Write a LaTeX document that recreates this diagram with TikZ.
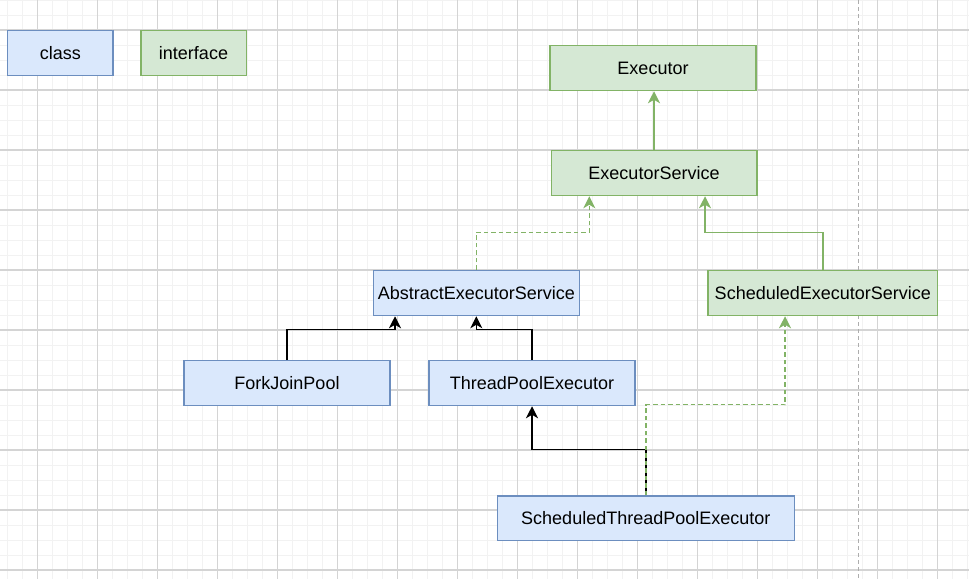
\documentclass[tikz,border=0pt]{standalone}
\usepackage{fontspec}
\setmainfont{Liberation Sans}
\usetikzlibrary{arrows.meta}
\definecolor{classfill}{HTML}{DAE8FC}
\definecolor{classline}{HTML}{6C8EBF}
\definecolor{ifacefill}{HTML}{D5E8D4}
\definecolor{ifaceline}{HTML}{82B366}
\tikzset{>={Stealth[length=12pt,width=12pt,inset=3.5pt]}}
\tikzset{
  box/.style={draw, line width=1.5pt, minimum height=45pt, inner sep=0pt,
    font=\fontsize{18}{21}\selectfont},
  classbox/.style={box, fill=classfill, draw=classline},
  ifacebox/.style={box, fill=ifacefill, draw=ifaceline},
  extends/.style={->, line width=1.5pt, black},
  extendsi/.style={->, line width=1.5pt, ifaceline},
  implements/.style={->, line width=1.5pt, ifaceline, dash pattern=on 4.5pt off 3pt},
  minorgrid/.style={draw=black!5, line width=1pt},
  majorgrid/.style={draw=black!17, line width=1.2pt}
}

\begin{document}
\begin{tikzpicture}[x=1pt, y=-1pt]
    \useasboundingbox (0,0) rectangle (969,579);
    \fill[white] (0,0) rectangle (969,579);
    % grid
    \foreach \x in {7.3,22.3,...,969}
    \draw[minorgrid] (\x,0) -- (\x,579);
    \foreach \y in {0,15,...,579}
    \draw[minorgrid] (0,\y) -- (969,\y);
    \foreach \x in {37.3,97.3,...,969}
    \draw[majorgrid] (\x,0) -- (\x,579);
    \foreach \y in {30,90,...,579}
    \draw[majorgrid] (0,\y) -- (969,\y);
    \draw[black!32, line width=1.2pt, dash pattern=on 4pt off 3pt] (858.3,0) -- (858.3,579);
    % legend
    \node[classbox, minimum width=105.5pt] (class) at (60.3,53) {class};
    \node[ifacebox, minimum width=105.5pt] (iface) at (193.5,53) {interface};
    % types
    \node[ifacebox, minimum width=206pt] (exec) at (653,68) {Executor};
    \node[ifacebox, minimum width=205.5pt] (es) at (654,173) {ExecutorService};
    \node[classbox, minimum width=206pt] (aes) at (476.3,293) {AbstractExecutorService};
    \node[ifacebox, minimum width=229.7pt] (ses) at (822.8,293) {ScheduledExecutorService};
    \node[classbox, minimum width=206pt] (fjp) at (287,383) {ForkJoinPool};
    \node[classbox, minimum width=206pt] (tpe) at (532,383) {ThreadPoolExecutor};
    \node[classbox, minimum width=297pt, minimum height=44.5pt] (stpe) at (645.8,518) {ScheduledThreadPoolExecutor};
    % relations
    \draw[extendsi] (es.north) -- (es.north |- exec.south);
    \draw[implements] (aes.north) -- ++(0,-37.5) -| ([xshift=-64.7pt]es.south);
    \draw[extendsi] (ses.north) -- ++(0,-37.5) -| ([xshift=51pt]es.south);
    \draw[extends] (fjp.north) -- ++(0,-30.5) -| ([xshift=-81.3pt]aes.south);
    \draw[extends] (tpe.north) -- ++(0,-30.5) -| (aes.south);
    \draw[extends] (stpe.north) -- ++(0,-45.3) -| (tpe.south);
    \draw[implements] (stpe.north) -- ++(0,-90.3) -| ([xshift=-37.8pt]ses.south);
    \end{tikzpicture}
\end{document}
